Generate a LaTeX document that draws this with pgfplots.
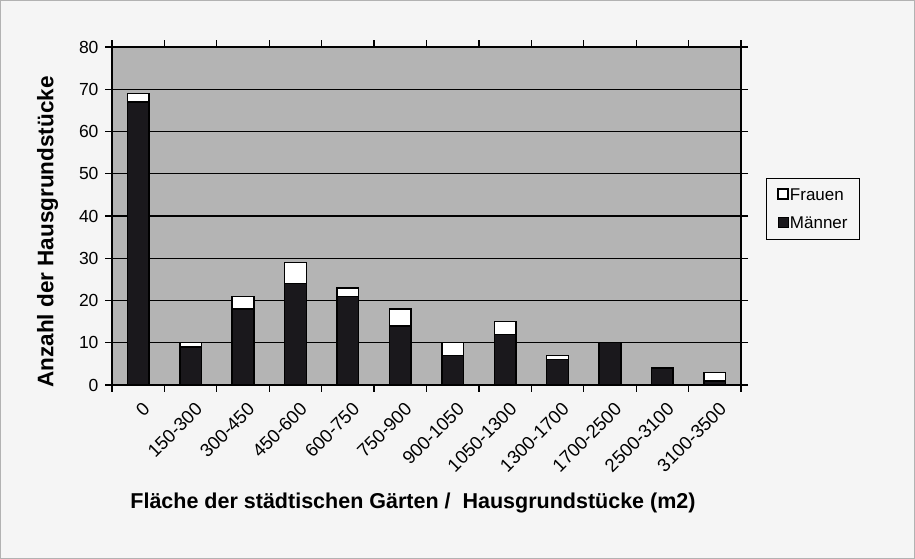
\documentclass[border=0pt]{standalone}
\usepackage{pgfplots}
\pgfplotsset{compat=1.18}
\usepackage{fontspec}
\setmainfont{Liberation Sans}
\definecolor{plotbg}{RGB}{180,180,180}
\definecolor{outerbg}{RGB}{245,245,245}
\definecolor{barblack}{RGB}{26,24,28}
\begin{document}
\begin{tikzpicture}[x=1pt,y=1pt]
\fill[outerbg] (0,0) rectangle (915,559);
\draw[gray!60, line width=1pt] (0.5,0.5) rectangle (914.5,558.5);
\begin{axis}[
  at={(112pt,174pt)}, anchor=south west,
  scale only axis, width=629pt, height=338pt,
  xmin=-0.5, xmax=11.5, ymin=0, ymax=80,
  ybar stacked, bar width=21.7pt,
  axis background/.style={fill=plotbg},
  axis line style={black, line width=1.2pt},
  ymajorgrids, grid style={black, line width=1.2pt},
  ytick={0,10,...,80},
  xtick={0,...,11},
  xticklabels={0,150-300,300-450,450-600,600-750,750-900,900-1050,1050-1300,1300-1700,1700-2500,2500-3100,3100-3500},
  major x tick style={draw=none},
  extra x ticks={-0.5,0.5,...,11.5},
  extra x tick labels={},
  extra x tick style={major tick length=7pt, major x tick style={draw=black, line width=1.2pt}, grid=none},
  tick align=outside,
  major tick length=7pt,
  tick style={black, line width=1.2pt},
  /pgf/number format/assume math mode=true,
  yticklabel style={font=\fontsize{17.5}{20}\selectfont, xshift=-3pt},
  xticklabel style={font=\fontsize{18.5}{21}\selectfont, rotate=45, anchor=north east, inner sep=1pt, xshift=-3pt, yshift=-8pt},
  ylabel={\bfseries Anzahl der Hausgrundstücke},
  ylabel style={font=\fontsize{22.5}{26}\selectfont, at={(axis description cs:-0.1025,0.4527)}, anchor=center, rotate=0},
  xlabel={\bfseries Fläche der städtischen Gärten /\ \ Hausgrundstücke (m2)},
  xlabel style={font=\fontsize{21.5}{25}\selectfont, at={(axis description cs:0.4785,-0.349)}, anchor=center},
  legend style={at={(1.0397,0.6124)}, anchor=north west, draw=black, line width=1pt, fill=outerbg,
    font=\fontsize{17}{20}\selectfont, row sep=13pt, inner xsep=11pt, inner ysep=9pt,
    nodes={inner sep=1pt}},
  legend cell align=left,
  reverse legend,
]
\addplot[fill=barblack, draw=black, line width=1.5pt,
  legend image code/.code={\draw[fill=barblack, draw=black, line width=1pt] (0pt,-4pt) rectangle (10pt,6pt);}]
  coordinates {(0,67) (1,9) (2,18) (3,24) (4,21) (5,14) (6,7) (7,12) (8,6) (9,10) (10,4) (11,1)};
\addplot[fill=white, draw=black, line width=1.5pt,
  legend image code/.code={\draw[fill=white, draw=black, line width=1.5pt] (0pt,-4pt) rectangle (10pt,6pt);}]
  coordinates {(0,2) (1,1) (2,3) (3,5) (4,2) (5,4) (6,3) (7,3) (8,1) (9,0) (10,0) (11,2)};
\legend{Männer\hspace{8pt}, Frauen}
\end{axis}
\end{tikzpicture}
\end{document}
